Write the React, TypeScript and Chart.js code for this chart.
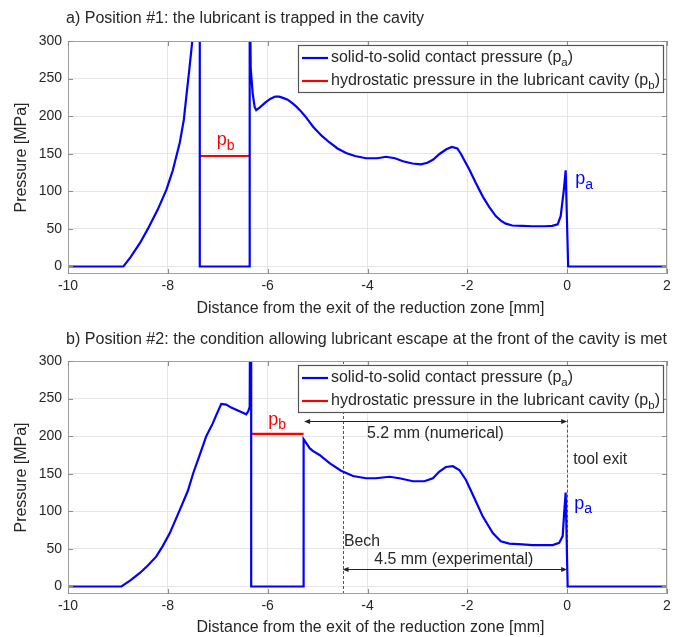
import React, { useEffect, useRef } from "react";
import { Chart, registerables } from "chart.js";
Chart.register(...registerables);

const FONT = '"Liberation Sans", Arial, Helvetica, sans-serif';
const TEXT = "#262626";
const BLUE = "#0000ff";
const RED = "#ff0000";

const xTicks = [-10, -8, -6, -4, -2, 0, 2];
const yTicks = [0, 50, 100, 150, 200, 250, 300];

// ---- Panel a) ----
const paTopX = [-10, -8.89, -8.75, -8.56, -8.4, -8.2, -8.03, -7.9, -7.76, -7.68, -7.63, -7.57, -7.51, -7.45, -7.36, -7.36, -6.36, -6.36, -6.34, -6.3, -6.26, -6.23, -6.15, -6.05, -5.95, -5.85, -5.77, -5.68, -5.6, -5.5, -5.43, -5.34, -5.25, -5.17, -5.09, -4.92, -4.76, -4.6, -4.43, -4.25, -4.03, -3.8, -3.63, -3.45, -3.29, -3.1, -2.93, -2.8, -2.69, -2.55, -2.42, -2.31, -2.2, -2.13, -2.05, -1.96, -1.83, -1.69, -1.56, -1.43, -1.33, -1.23, -1.1, -0.9, -0.7, -0.45, -0.3, -0.19, -0.13, -0.07, -0.03, 0.02, 2];
const paTopY = [0, 0, 12, 31, 50, 76, 102, 128, 165, 195, 226, 262, 300, 360, 400, 0, 0, 400, 264, 230, 212, 208, 212, 218, 223, 226, 226, 224, 222, 217, 213, 207, 200, 193, 186, 174, 165, 157, 151, 147, 144, 144, 146, 144, 140, 137, 136, 138, 142, 150, 156, 159, 157, 150, 140, 129, 111, 93, 79, 67, 61, 57, 54.5, 54, 53.5, 53.5, 54, 56, 67, 100, 128, 0, 0];
const pbTopX = [-7.36, -6.36];
const pbTopY = [147, 147];

// ---- Panel b) ----
const paBotX = [-10, -8.93, -8.75, -8.56, -8.4, -8.23, -8.1, -7.96, -7.76, -7.6, -7.49, -7.35, -7.23, -7.1, -7.03, -6.93, -6.83, -6.73, -6.63, -6.53, -6.43, -6.39, -6.36, -6.35, -6.33, -6.33, -5.28, -5.28, -5.25, -5.2, -5.16, -5.09, -4.96, -4.76, -4.53, -4.29, -4.03, -3.83, -3.56, -3.36, -3.09, -2.86, -2.69, -2.56, -2.43, -2.29, -2.16, -2.03, -1.89, -1.69, -1.49, -1.33, -1.16, -0.9, -0.69, -0.29, -0.16, -0.09, -0.06, -0.03, 0.01, 2];
const paBotY = [0, 0, 8, 18, 28, 40, 54, 71, 102, 127, 151, 177, 200, 217, 228, 243, 242, 238, 235, 232, 229, 233, 239, 400, 400, 0, 0, 196, 193, 188, 184, 180, 175, 164, 154, 147, 144, 144, 146, 144, 140, 140, 144, 153, 159, 160, 155, 142, 122, 93, 71, 60, 57, 56, 55, 55, 58, 67, 98, 125, 0, 0];
const pbBotX = [-6.33, -5.28];
const pbBotY = [203, 203];

// annotations (panel b)
const bechX = -4.5;
const toolExitX = 0;
const toolExitTopY = 222;
const numericalArrow = { x1: -5.27, x2: 0, y: 220 };
const experimentalArrow = { x1: -4.5, x2: 0, y: 23 };

const legendLines = [
  { color: BLUE, parts: [{ t: "solid-to-solid contact pressure (p" }, { t: "a", sub: true }, { t: ")" }], width: 242 },
  { color: RED, parts: [{ t: "hydrostatic pressure in the lubricant cavity (p" }, { t: "b", sub: true }, { t: ")" }], width: 329 },
];

const titleA = "a) Position #1: the lubricant is trapped in the cavity";
const titleB = "b) Position #2: the condition allowing lubricant escape at the front of the cavity is met";
const xTitle = "Distance from the exit of the reduction zone [mm]";
const yTitle = "Pressure [MPa]";

type Part = { t: string; sub?: boolean };

function drawRich(
  ctx: CanvasRenderingContext2D,
  parts: Part[],
  x: number,
  y: number,
  size: number,
  color: string,
  align: "left" | "center" | "right" = "left",
  target?: number,
  subSize?: number
) {
  ctx.save();
  ctx.fillStyle = color;
  ctx.textBaseline = "middle";
  const ss = subSize || size * 0.72;
  let w = 0;
  const ws = parts.map((p) => {
    ctx.font = `${p.sub ? ss : size}px ${FONT}`;
    const m = ctx.measureText(p.t).width;
    w += m;
    return m;
  });
  const sx = target ? target / w : 1;
  const total = w * sx;
  const start = align === "left" ? x : align === "center" ? x - total / 2 : x - total;
  ctx.translate(start, y);
  ctx.scale(sx, 1);
  let cx = 0;
  parts.forEach((p, i) => {
    ctx.font = `${p.sub ? ss : size}px ${FONT}`;
    ctx.fillText(p.t, cx, p.sub ? size * 0.32 : 0);
    cx += ws[i];
  });
  ctx.restore();
}

function arrowHead(ctx: CanvasRenderingContext2D, x: number, y: number, dir: number) {
  ctx.beginPath();
  ctx.moveTo(x, y);
  ctx.lineTo(x - dir * 6, y - 2.5);
  ctx.lineTo(x - dir * 6, y + 2.5);
  ctx.closePath();
  ctx.fill();
}

type PanelCfg = {
  title: string;
  titleWidth: number;
  paX: number[];
  paY: number[];
  pbX: number[];
  pbY: number[];
  pbLabel: { x: number; y: number };
  paLabel: { x: number; y: number };
  annotate: boolean;
  height: number;
  xAxisH: number;
  xTitleY: number;
  titleY: number;
};

function makePlugin(cfg: PanelCfg) {
  return {
    id: "matlabLook",
    beforeDatasetsDraw(chart: any) {
      const ctx = chart.ctx as CanvasRenderingContext2D;
      const xs = chart.scales.x;
      const ys = chart.scales.y;
      const { top, bottom } = chart.chartArea;
      if (cfg.annotate) {
        ctx.save();
        ctx.strokeStyle = "#555555";
        ctx.lineWidth = 1;
        ctx.setLineDash([3, 2]);
        const bx = Math.round(xs.getPixelForValue(bechX)) + 0.5;
        ctx.beginPath();
        ctx.moveTo(bx, top);
        ctx.lineTo(bx, bottom);
        ctx.stroke();
        const tx = Math.round(xs.getPixelForValue(toolExitX)) + 0.5;
        ctx.beginPath();
        ctx.moveTo(tx, ys.getPixelForValue(toolExitTopY));
        ctx.lineTo(tx, bottom);
        ctx.stroke();
        ctx.restore();
      }
    },
    afterDatasetsDraw(chart: any) {
      const ctx = chart.ctx as CanvasRenderingContext2D;
      const xs = chart.scales.x;
      const ys = chart.scales.y;
      const { left, right, top, bottom } = chart.chartArea;

      // box + inward ticks
      ctx.save();
      ctx.strokeStyle = "#a0a0a0";
      ctx.lineWidth = 1;
      ctx.strokeRect(left + 0.5, top + 0.5, right - left - 1, bottom - top - 1);
      ctx.strokeStyle = "#8c8c8c";
      ctx.beginPath();
      xTicks.forEach((v) => {
        const px = Math.round(xs.getPixelForValue(v)) + 0.5;
        ctx.moveTo(px, bottom);
        ctx.lineTo(px, bottom - 5);
        ctx.moveTo(px, top);
        ctx.lineTo(px, top + 5);
      });
      yTicks.forEach((v) => {
        const py = Math.round(ys.getPixelForValue(v)) + 0.5;
        ctx.moveTo(left, py);
        ctx.lineTo(left + 5, py);
        ctx.moveTo(right, py);
        ctx.lineTo(right - 5, py);
      });
      ctx.stroke();
      ctx.restore();

      // annotations
      if (cfg.annotate) {
        ctx.save();
        ctx.strokeStyle = "#222222";
        ctx.fillStyle = "#222222";
        ctx.lineWidth = 1.2;
        [numericalArrow, experimentalArrow].forEach((a) => {
          const x1 = xs.getPixelForValue(a.x1);
          const x2 = xs.getPixelForValue(a.x2);
          const y = Math.round(ys.getPixelForValue(a.y)) + 0.5;
          ctx.beginPath();
          ctx.moveTo(x1 + 3, y);
          ctx.lineTo(x2 - 3, y);
          ctx.stroke();
          arrowHead(ctx, x1, y, -1);
          arrowHead(ctx, x2, y, 1);
        });
        ctx.restore();
        drawRich(ctx, [{ t: "5.2 mm (numerical)" }], xs.getPixelForValue(-2.64), ys.getPixelForValue(204), 16, TEXT, "center", 137);
        drawRich(ctx, [{ t: "4.5 mm (experimental)" }], xs.getPixelForValue(-2.27), ys.getPixelForValue(36), 16, TEXT, "center", 159);
        drawRich(ctx, [{ t: "tool exit" }], xs.getPixelForValue(0.12), ys.getPixelForValue(169), 16, TEXT, "left", 54);
        drawRich(ctx, [{ t: "Bech" }], xs.getPixelForValue(-4.47), ys.getPixelForValue(60), 16, TEXT, "left", 36);
      }

      // p labels
      drawRich(ctx, [{ t: "p" }, { t: "b", sub: true }], xs.getPixelForValue(cfg.pbLabel.x), ys.getPixelForValue(cfg.pbLabel.y), 18, RED, "left", undefined, 14);
      drawRich(ctx, [{ t: "p" }, { t: "a", sub: true }], xs.getPixelForValue(cfg.paLabel.x), ys.getPixelForValue(cfg.paLabel.y), 18, BLUE, "left", undefined, 14);

      // legend
      ctx.save();
      const lx = 298, ly = top + 4, lw = right - 4 - lx, lh = 47;
      ctx.fillStyle = "#ffffff";
      ctx.fillRect(lx, ly, lw, lh);
      ctx.strokeStyle = "#555555";
      ctx.lineWidth = 1.2;
      ctx.strokeRect(lx + 0.5, ly + 0.5, lw, lh);
      legendLines.forEach((l, i) => {
        const yy = ly + 13 + i * 23;
        ctx.strokeStyle = l.color;
        ctx.lineWidth = 2.2;
        ctx.beginPath();
        ctx.moveTo(lx + 4, yy);
        ctx.lineTo(lx + 30, yy);
        ctx.stroke();
        drawRich(ctx, l.parts, lx + 33, yy, 16, TEXT, "left", l.width);
      });
      ctx.restore();
    },
    afterDraw(chart: any) {
      const ctx = chart.ctx as CanvasRenderingContext2D;
      const { left, right, top, bottom } = chart.chartArea;
      drawRich(ctx, [{ t: cfg.title }], 66, cfg.titleY, 16, TEXT, "left", cfg.titleWidth);
      drawRich(ctx, [{ t: xTitle }], (left + right) / 2 + 3, cfg.xTitleY, 16, TEXT, "center", 348);
      ctx.save();
      ctx.translate(22, (top + bottom) / 2);
      ctx.rotate(-Math.PI / 2);
      drawRich(ctx, [{ t: yTitle }], 0, 0, 16, TEXT, "center", 110);
      ctx.restore();
    },
  };
}

function Panel({ cfg }: { cfg: PanelCfg }) {
  const ref = useRef<HTMLCanvasElement>(null);
  useEffect(() => {
    if (!ref.current) return;
    const toPts = (xs: number[], ys: number[]) => xs.map((x, i) => ({ x, y: ys[i] }));
    const chart = new Chart(ref.current, {
      type: "line",
      data: {
        datasets: [
          {
            label: "solid-to-solid contact pressure (pa)",
            data: toPts(cfg.paX, cfg.paY),
            borderColor: BLUE,
            borderWidth: 2.2,
            pointRadius: 0,
            tension: 0,
            fill: false,
          },
          {
            label: "hydrostatic pressure in the lubricant cavity (pb)",
            data: toPts(cfg.pbX, cfg.pbY),
            borderColor: RED,
            borderWidth: 2.2,
            pointRadius: 0,
            tension: 0,
            fill: false,
          },
        ],
      },
      options: {
        responsive: false,
        animation: false,
        events: [],
        layout: { padding: { left: 0, top: 41, right: 14, bottom: 0 } },
        plugins: { legend: { display: false }, tooltip: { enabled: false }, title: { display: false } },
        scales: {
          x: {
            type: "linear",
            min: -10,
            max: 2,
            afterBuildTicks: (s: any) => {
              s.ticks = xTicks.map((v) => ({ value: v }));
            },
            afterFit: (s: any) => {
              s.height = cfg.xAxisH;
            },
            grid: { color: "#e6e6e6", drawTicks: false },
            border: { display: false },
            ticks: { padding: 4, color: TEXT, font: { family: FONT, size: 14 }, callback: (v: any) => String(v) },
          },
          y: {
            type: "linear",
            min: -10,
            max: 300,
            afterBuildTicks: (s: any) => {
              s.ticks = yTicks.map((v) => ({ value: v }));
            },
            afterFit: (s: any) => {
              s.width = 68;
            },
            grid: { color: "#e6e6e6", drawTicks: false },
            border: { display: false },
            ticks: { padding: 6, color: TEXT, font: { family: FONT, size: 14 }, callback: (v: any) => String(v) },
          },
        },
      },
      plugins: [makePlugin(cfg) as any],
    });
    return () => chart.destroy();
  }, []);
  return <canvas ref={ref} width={681} height={cfg.height} style={{ display: "block", width: 681, height: cfg.height }} />;
}

const cfgA: PanelCfg = {
  title: titleA,
  titleWidth: 358,
  paX: paTopX,
  paY: paTopY,
  pbX: pbTopX,
  pbY: pbTopY,
  pbLabel: { x: -7.02, y: 168 },
  paLabel: { x: 0.16, y: 116 },
  annotate: false,
  height: 320,
  xAxisH: 46,
  xTitleY: 309,
  titleY: 19,
};

const cfgB: PanelCfg = {
  title: titleB,
  titleWidth: 601,
  paX: paBotX,
  paY: paBotY,
  pbX: pbBotX,
  pbY: pbBotY,
  pbLabel: { x: -5.99, y: 222 },
  paLabel: { x: 0.14, y: 110 },
  annotate: true,
  height: 317,
  xAxisH: 43,
  xTitleY: 308,
  titleY: 20,
};

export default function App() {
  return (
    <div style={{ position: "absolute", left: 0, top: 0, width: 681, height: 637, background: "#ffffff", overflow: "hidden" }}>
      <Panel cfg={cfgA} />
      <Panel cfg={cfgB} />
    </div>
  );
}
